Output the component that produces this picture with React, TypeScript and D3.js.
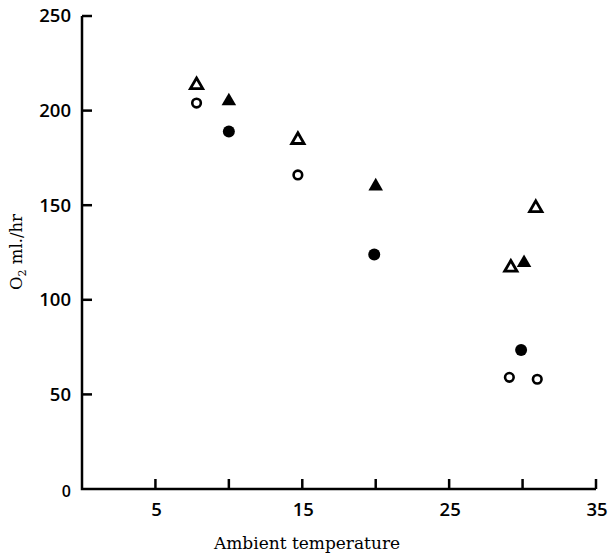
import React from 'react';
import * as d3 from 'd3';

// ambient temperature (x) vs O2 consumption (y)
const openCircleX = [7.8, 14.7, 29.1, 31.0];
const openCircleY = [204, 166, 59, 58];

const filledCircleX = [10.0, 19.9, 29.9];
const filledCircleY = [189, 124, 73.5];

const openTriangleX = [7.8, 14.7, 29.2, 30.9];
const openTriangleY = [213.5, 184.5, 117, 148.5];

const filledTriangleX = [10.0, 20.0, 30.1];
const filledTriangleY = [205, 160, 119.5];

const xTicks = [5, 10, 15, 20, 25, 30, 35];
const xTickLabels = [5, 15, 25, 35];
const yTicks = [0, 50, 100, 150, 200, 250];

const W = 610;
const H = 555;
const left = 82;
const right = 596;
const top = 16;
const bottom = 489;

const sansFont = '"Open Sans", "Noto Sans", sans-serif';
const serifFont = '"DejaVu Serif", "Liberation Serif", serif';

const App = () => {
    const x = d3.scaleLinear().domain([0, 35]).range([left, right]);
    const y = d3.scaleLinear().domain([0, 250]).range([bottom, top]);

    const openTri = d3.symbol().type(d3.symbolTriangle).size(66)();
    const fullTri = d3.symbol().type(d3.symbolTriangle).size(92)();

    const zip = (xs: number[], ys: number[]) => xs.map((v, i) => [v, ys[i]]);

    return (
        <svg width={W} height={H} style={{ position: 'absolute', left: 0, top: 0, background: '#fff' }}>
            {/* axes */}
            <path d={`M${left},${y(250)}V${bottom}H${x(35)}`} fill="none" stroke="#000" strokeWidth={2.5} />
            {yTicks.filter(t => t > 0).map(t => (
                <line key={'yt' + t} x1={left} x2={left + 10} y1={y(t)} y2={y(t)} stroke="#000" strokeWidth={2.5} />
            ))}
            {xTicks.map(t => (
                <line key={'xt' + t} x1={x(t)} x2={x(t)} y1={bottom} y2={bottom - 10} stroke="#000" strokeWidth={2.5} />
            ))}
            {yTicks.map(t => (
                <text key={'yl' + t} x={71} y={t === 0 ? y(t) + 2 : y(t)} dy="0.35em" textAnchor="end"
                    fontFamily={sansFont} fontWeight={600} fontSize={t === 0 ? 16 : 18.5}>{t}</text>
            ))}
            {xTickLabels.map(t => (
                <text key={'xl' + t} x={x(t) + 1} y={510} dy="0.35em" textAnchor="middle"
                    fontFamily={sansFont} fontWeight={600} fontSize={18.5}>{t}</text>
            ))}

            {/* axis titles */}
            <text x={307} y={549} textAnchor="middle" fontFamily={serifFont} fontSize={17}>Ambient temperature</text>
            <text transform={`translate(22,252) rotate(-90)`} textAnchor="middle" fontFamily={serifFont} fontSize={16.5}>
                O<tspan fontSize={11} dy={4}>2</tspan><tspan dy={-4}> ml./hr</tspan>
            </text>

            {/* points */}
            {zip(openCircleX, openCircleY).map(([a, b], i) => (
                <circle key={'oc' + i} cx={x(a)} cy={y(b)} r={4.3} fill="#fff" stroke="#000" strokeWidth={2.6} />
            ))}
            {zip(filledCircleX, filledCircleY).map(([a, b], i) => (
                <circle key={'fc' + i} cx={x(a)} cy={y(b)} r={6} fill="#000" />
            ))}
            {zip(openTriangleX, openTriangleY).map(([a, b], i) => (
                <path key={'ot' + i} d={openTri || ''} transform={`translate(${x(a)},${y(b)})`}
                    fill="#fff" stroke="#000" strokeWidth={2.8} strokeLinejoin="miter" />
            ))}
            {zip(filledTriangleX, filledTriangleY).map(([a, b], i) => (
                <path key={'ft' + i} d={fullTri || ''} transform={`translate(${x(a)},${y(b)})`} fill="#000" />
            ))}
        </svg>
    );
};

export default App;
